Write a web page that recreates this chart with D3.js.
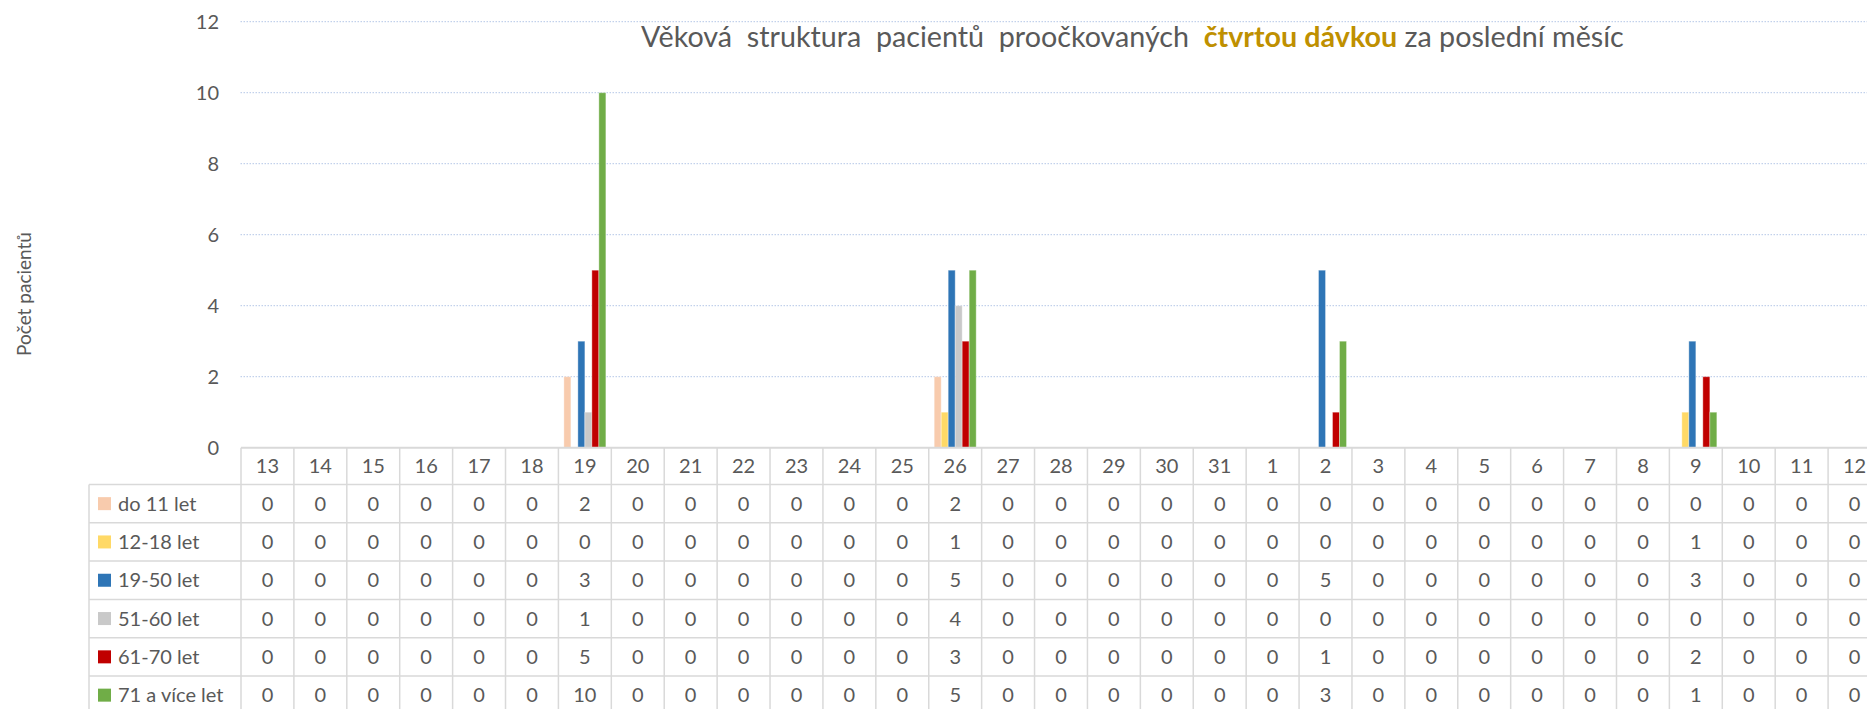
<!DOCTYPE html>
<html>
<head>
<meta charset="utf-8">
<script src="https://cdn.jsdelivr.net/npm/d3@7"></script>
<style>
	body { margin: 0; background: #fff; }
	text { font-family: Lato, "Open Sans", sans-serif; fill: #595959; }
</style>
</head>
<body>
<div id="chart"></div>
<script>
// days of the last month
var days = ["13","14","15","16","17","18","19","20","21","22","23","24","25","26","27","28","29","30","31",
	"1","2","3","4","5","6","7","8","9","10","11","12"];

// age groups and their values per day
var groups = ["do 11 let", "12-18 let", "19-50 let", "51-60 let", "61-70 let", "71 a více let"];
var do11   = [0,0,0,0,0,0,2,0,0,0,0,0,0,2,0,0,0,0,0,0,0,0,0,0,0,0,0,0,0,0,0];
var v12_18 = [0,0,0,0,0,0,0,0,0,0,0,0,0,1,0,0,0,0,0,0,0,0,0,0,0,0,0,1,0,0,0];
var v19_50 = [0,0,0,0,0,0,3,0,0,0,0,0,0,5,0,0,0,0,0,0,5,0,0,0,0,0,0,3,0,0,0];
var v51_60 = [0,0,0,0,0,0,1,0,0,0,0,0,0,4,0,0,0,0,0,0,0,0,0,0,0,0,0,0,0,0,0];
var v61_70 = [0,0,0,0,0,0,5,0,0,0,0,0,0,3,0,0,0,0,0,0,1,0,0,0,0,0,0,2,0,0,0];
var v71    = [0,0,0,0,0,0,10,0,0,0,0,0,0,5,0,0,0,0,0,0,3,0,0,0,0,0,0,1,0,0,0];
var yTicks = [0, 2, 4, 6, 8, 10, 12];

var colors = ["#F8CBAD", "#FFD966", "#2E75B6", "#C9C9C9", "#C00000", "#70AD47"];
var series = [do11, v12_18, v19_50, v51_60, v61_70, v71];

var width = 1867, height = 709;

var svg = d3.select("#chart").append("svg")
	.attr("width", width)
	.attr("height", height);

// plot frame (table runs past the right edge like in the original)
var left = 241, right = 1881;
var zeroY = 447.7, topY = 21.7;
var headerH = 36.8, rowH = 38.3;
var legendLeft = 89;

var xScale = d3.scaleBand()
	.domain(days)
	.range([left, right]);

var yScale = d3.scaleLinear()
	.domain([0, 12])
	.range([zeroY, topY]);

// groups inside one day
var groupW = xScale.bandwidth() / 1.26;
var x1 = d3.scaleBand()
	.domain(groups)
	.range([0, groupW]);

//gridlines
svg.append("g")
	.selectAll("line")
	.data(yTicks.filter(function(d) { return d > 0; }))
	.join("line")
	.attr("x1", 240.5)
	.attr("x2", width)
	.attr("y1", function(d) { return yScale(d); })
	.attr("y2", function(d) { return yScale(d); })
	.attr("stroke", "#B4C7E7")
	.attr("stroke-width", 1)
	.attr("stroke-dasharray", "1.5,1.5");

//y axis labels
var yAxis = d3.axisLeft(yScale)
	.tickValues(yTicks)
	.tickSize(0)
	.tickPadding(0);

svg.append("g")
	.attr("transform", "translate(219,0)")
	.call(yAxis)
	.call(function(g) { g.select(".domain").remove(); })
	.selectAll("text")
	.style("font-family", "Lato, sans-serif")
	.style("font-size", "20px")
	.attr("fill", "#595959");

//bars
var barData = [];
for (var i = 0; i < days.length; i++) {
	for (var j = 0; j < groups.length; j++) {
		if (series[j][i] > 0) {
			barData.push({ day: days[i], group: groups[j], value: series[j][i], color: colors[j] });
		}
	}
}

var offset = (xScale.bandwidth() - groupW) / 2;

svg.append("g")
	.selectAll("rect")
	.data(barData)
	.join("rect")
	.attr("x", function(d) { return xScale(d.day) + offset + x1(d.group); })
	.attr("y", function(d) { return yScale(d.value); })
	.attr("width", x1.bandwidth())
	.attr("height", function(d) { return zeroY - yScale(d.value); })
	.attr("fill", function(d) { return d.color; })
	.attr("stroke", "rgba(255,255,255,0.35)")
	.attr("stroke-width", 1);

//data table lines
var tableBottom = zeroY + headerH + rowH * groups.length;
var lineColor = "#D9D9D9";
var table = svg.append("g");

// vertical lines between the days
var edges = days.map(function(d) { return xScale(d); }).concat([right]);
table.selectAll(".vline")
	.data(edges)
	.join("line")
	.attr("x1", function(d) { return d; })
	.attr("x2", function(d) { return d; })
	.attr("y1", zeroY)
	.attr("y2", tableBottom)
	.attr("stroke", lineColor)
	.attr("stroke-width", 1.5);

// legend column left edge
table.append("line")
	.attr("x1", legendLeft).attr("x2", legendLeft)
	.attr("y1", zeroY + headerH).attr("y2", tableBottom)
	.attr("stroke", lineColor)
	.attr("stroke-width", 1.5);

// horizontal lines
var rowLines = d3.range(groups.length + 1).map(function(k) { return zeroY + headerH + k * rowH; });
table.selectAll(".hline")
	.data(rowLines)
	.join("line")
	.attr("x1", legendLeft)
	.attr("x2", right)
	.attr("y1", function(d) { return d; })
	.attr("y2", function(d) { return d; })
	.attr("stroke", lineColor)
	.attr("stroke-width", 1.5);

// axis line on top of the table
table.append("line")
	.attr("x1", left).attr("x2", right)
	.attr("y1", zeroY).attr("y2", zeroY)
	.attr("stroke", lineColor)
	.attr("stroke-width", 2);

//header with the days
var xAxis = d3.axisBottom(xScale).tickSize(0).tickPadding(0);
svg.append("g")
	.attr("transform", "translate(0," + (zeroY + headerH / 2) + ")")
	.call(xAxis)
	.call(function(g) { g.select(".domain").remove(); })
	.selectAll("text")
	.attr("dy", "0.35em")
	.style("font-family", "Lato, sans-serif")
	.style("font-size", "20px")
	.attr("fill", "#595959");

//rows with legend and values
for (var j = 0; j < groups.length; j++) {
	var cy = zeroY + headerH + j * rowH + rowH / 2;

	svg.append("rect")
		.attr("x", 98)
		.attr("y", cy - 6.5)
		.attr("width", 13)
		.attr("height", 13)
		.attr("fill", colors[j]);

	svg.append("text")
		.attr("x", 118)
		.attr("y", cy)
		.attr("dy", "0.35em")
		.style("font-size", "20px")
		.text(groups[j]);

	svg.append("g")
		.selectAll("text")
		.data(series[j])
		.join("text")
		.attr("x", function(d, i) { return xScale(days[i]) + xScale.bandwidth() / 2; })
		.attr("y", cy)
		.attr("dy", "0.35em")
		.attr("text-anchor", "middle")
		.style("font-size", "20px")
		.text(function(d) { return d; });
}

//y axis title
svg.append("text")
	.attr("transform", "translate(31,294) rotate(-90)")
	.attr("text-anchor", "middle")
	.style("font-size", "19px")
	.text("Počet pacientů");

//title
var title = svg.append("text")
	.attr("x", 641)
	.attr("y", 47)
	.style("font-size", "28.7px")
	.style("white-space", "pre");
title.append("tspan").text("Věková  struktura  pacientů  proočkovaných  ");
title.append("tspan").text("čtvrtou dávkou").style("font-weight", "bold").style("fill", "#BF9000");
title.append("tspan").text(" za poslední měsíc");
</script>
</body>
</html>
